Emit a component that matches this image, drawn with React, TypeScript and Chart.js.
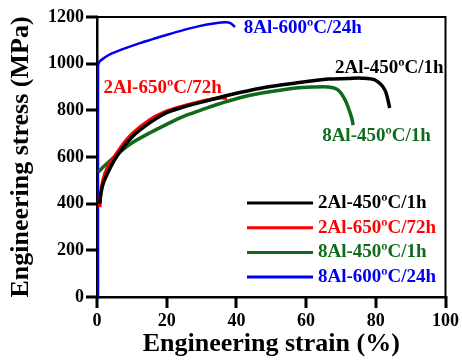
import React, { useEffect, useRef } from "react";
import { Chart, registerables } from "chart.js";

Chart.register(...registerables);

const SERIES_LABELS = ["2Al-450ºC/1h", "2Al-650ºC/72h", "8Al-450ºC/1h", "8Al-600ºC/24h"];
const SERIES_COLORS = ["#000000", "#ff0000", "#0f6b1c", "#0000f0"];

const strainA = [0.8, 1.2, 2, 4, 6, 10, 15, 20, 25, 30, 37.9, 47.3, 57, 66.4, 72, 75.8, 79.8, 82.6, 84];
const stressA = [400, 450, 495, 560, 610, 685, 745, 790, 815, 835, 866, 896, 917, 934, 936, 938, 930, 887, 810];

const strainB = [0.8, 1, 1.7, 3, 5.7, 8, 10.3, 15.1, 19, 22.8, 29.3, 35, 37.3];
const stressB = [385, 440, 500, 555, 617, 665, 703, 759, 790, 810, 836, 853, 852];

const strainC = [0.4, 2, 6.6, 10, 15.1, 20, 24.5, 30, 34, 40.7, 47.3, 57, 62, 66.4, 69.2, 71.2, 73, 73.5];
const stressC = [536, 560, 621, 660, 703, 740, 772, 802, 823, 853, 874, 896, 900, 900, 887, 844, 772, 737];

const strainD = [0.3, 0.3, 0.5, 0.9, 2, 3.7, 7, 12.3, 16, 19.9, 25, 29.3, 34, 37, 38.5, 39.6];
const stressD = [0, 990, 1003, 1012, 1024, 1040, 1060, 1088, 1105, 1123, 1145, 1161, 1173, 1177, 1172, 1157];

const STRAINS = [strainA, strainB, strainC, strainD];
const STRESSES = [stressA, stressB, stressC, stressD];

const X_TICKS = [0, 20, 40, 60, 80, 100];
const Y_TICKS = [0, 200, 400, 600, 800, 1000, 1200];

// in-plot label anchors (data coordinates: strain, stress), left-aligned
const ANNOT_X = [68.3, 1.9, 64.6, 42.1];
const ANNOT_Y = [981, 896, 690, 1153];

const X_TITLE = "Engineering strain (%)";
const Y_TITLE = "Engineering stress (MPa)";

const FONT_FAMILY = "'Liberation Serif', 'Times New Roman', serif";

export default function App() {
  const ref = useRef<HTMLCanvasElement>(null);
  useEffect(() => {
    document.body.style.margin = "0";
    const canvas = ref.current!;
    const datasets = STRAINS.map((xs, i) => ({
      label: SERIES_LABELS[i],
      data: xs.map((x, j) => ({ x, y: STRESSES[i][j] })),
      borderColor: SERIES_COLORS[i],
      backgroundColor: SERIES_COLORS[i],
      borderWidth: i === 3 ? 2.5 : 3.5,
      pointRadius: 0,
      tension: 0.3,
      fill: false,
    }));

    const overlay = {
      id: "overlay",
      afterDraw(chart: any) {
        const ctx = chart.ctx;
        const { left, right, top, bottom } = chart.chartArea;
        const xs = chart.scales.x;
        const ys = chart.scales.y;
        ctx.save();
        ctx.strokeStyle = "#000";
        ctx.lineWidth = 2;
        ctx.beginPath();
        ctx.moveTo(left, top);
        ctx.lineTo(right, top);
        ctx.lineTo(right, bottom);
        ctx.stroke();

        // outward tick marks
        ctx.fillStyle = "#000";
        X_TICKS.forEach((v) => {
          const px = Math.round(xs.getPixelForValue(v));
          ctx.fillRect(px - 1.5, Math.round(bottom) - 1, 3, 12);
        });
        Y_TICKS.forEach((v) => {
          const py = Math.round(ys.getPixelForValue(v));
          ctx.fillRect(Math.round(left) - 11, py - 1.5, 12, 3);
        });

        ctx.font = `bold 19px ${FONT_FAMILY}`;
        ctx.textBaseline = "middle";
        ctx.textAlign = "left";
        SERIES_LABELS.forEach((lab, i) => {
          ctx.fillStyle = SERIES_COLORS[i];
          ctx.fillText(lab, xs.getPixelForValue(ANNOT_X[i]), ys.getPixelForValue(ANNOT_Y[i]));
        });

        // legend
        const lx0 = left + 150;
        const lx1 = left + 216;
        const tx = left + 221;
        SERIES_LABELS.forEach((lab, i) => {
          const y = bottom - 94 + i * 24.7;
          ctx.strokeStyle = SERIES_COLORS[i];
          ctx.lineWidth = 3;
          ctx.beginPath();
          ctx.moveTo(lx0, y);
          ctx.lineTo(lx1, y);
          ctx.stroke();
          ctx.fillStyle = SERIES_COLORS[i];
          ctx.fillText(lab, tx, y);
        });
        ctx.restore();
      },
    };

    const tickFont = { family: FONT_FAMILY, size: 18, weight: "bold" as const };
    const titleFont = { family: FONT_FAMILY, size: 26, weight: "bold" as const };
    const makeGrid = () => ({
      display: true,
      drawOnChartArea: false,
      drawTicks: true,
      tickLength: 11,
      color: "#000",
      lineWidth: 2,
      tickColor: "#000",
      tickWidth: 2,
    });

    const chart = new Chart(canvas, {
      type: "line",
      data: { datasets },
      options: {
        animation: false,
        responsive: false,
        maintainAspectRatio: false,
        layout: { padding: { top: 17, right: 14, left: 0, bottom: 0 } },
        plugins: { legend: { display: false }, tooltip: { enabled: false } },
        scales: {
          x: {
            type: "linear",
            min: 0,
            max: 100,
            afterBuildTicks: (s: any) => { s.ticks = X_TICKS.map((value) => ({ value })); },
            ticks: { color: "#000", font: tickFont, padding: 3, maxRotation: 0, callback: (v: any) => String(v) },
            grid: makeGrid(),
            border: { color: "#000", width: 2.5 },
            title: { display: true, text: X_TITLE, color: "#000", font: titleFont, padding: { top: 0, bottom: 0 } },
            afterFit: (s: any) => { s.height = 63; },
          },
          y: {
            type: "linear",
            min: 0,
            max: 1200,
            afterBuildTicks: (s: any) => { s.ticks = Y_TICKS.map((value) => ({ value })); },
            ticks: { color: "#000", font: tickFont, padding: 2, callback: (v: any) => String(v) },
            grid: makeGrid(),
            border: { color: "#000", width: 2.5 },
            title: { display: true, text: Y_TITLE, color: "#000", font: titleFont, padding: { top: 6, bottom: 0 } },
            afterFit: (s: any) => { s.width = 97; },
          },
        },
      },
      plugins: [overlay],
    });
    return () => chart.destroy();
  }, []);
  return (
    <div style={{ width: 462, height: 360, background: "#fff" }}>
      <canvas ref={ref} width={462} height={360} style={{ display: "block" }} />
    </div>
  );
}
